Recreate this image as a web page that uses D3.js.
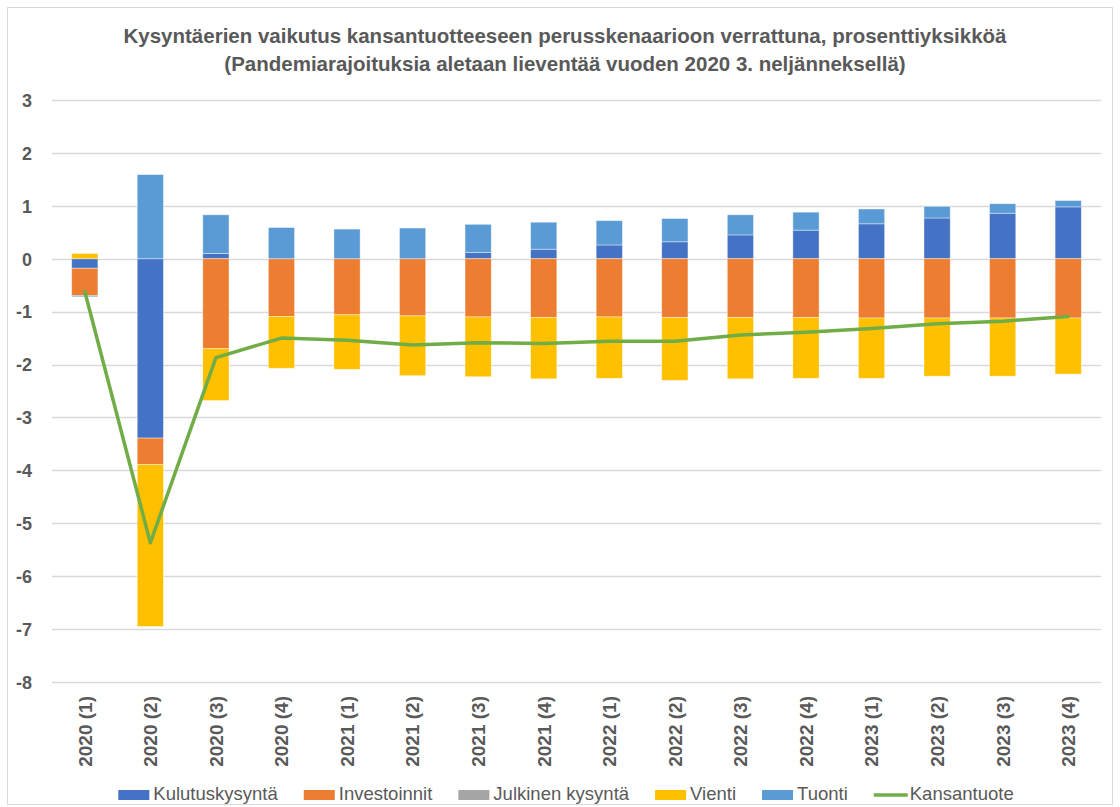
<!DOCTYPE html>
<html>
<head>
<meta charset="utf-8">
<script src="https://cdn.jsdelivr.net/npm/d3@7"></script>
<style>
  body { margin: 0; background: #fff; }
  svg text { font-family: "Liberation Sans", Arial, sans-serif; fill: #595959; }
</style>
</head>
<body>
<div id="chart"></div>
<script>
//quarters on the x axis
const quarters = ['2020 (1)','2020 (2)','2020 (3)','2020 (4)','2021 (1)','2021 (2)','2021 (3)','2021 (4)',
                  '2022 (1)','2022 (2)','2022 (3)','2022 (4)','2023 (1)','2023 (2)','2023 (3)','2023 (4)']

//demand components, percentage points
const kulutus      = [-0.18, -3.39, 0.10, 0.00, 0.00, 0.00, 0.12, 0.18, 0.26, 0.32, 0.45, 0.54, 0.66, 0.77, 0.86, 0.98]
const investoinnit = [-0.52, -0.50, -1.70, -1.09, -1.06, -1.08, -1.10, -1.11, -1.10, -1.11, -1.11, -1.11, -1.12, -1.12, -1.12, -1.12]
const julkinen     = [0, 0, 0, 0, 0, 0, 0, 0, 0, 0, 0, 0, 0, 0, 0, 0]
const vienti       = [0.10, -3.06, -0.98, -0.98, -1.03, -1.13, -1.13, -1.16, -1.16, -1.19, -1.16, -1.15, -1.14, -1.10, -1.10, -1.06]
const tuonti       = [-0.02, 1.59, 0.73, 0.59, 0.56, 0.58, 0.53, 0.51, 0.46, 0.44, 0.38, 0.34, 0.28, 0.22, 0.18, 0.12]

//gdp line
const kansantuote  = [-0.62, -5.37, -1.87, -1.50, -1.54, -1.63, -1.59, -1.60, -1.56, -1.56, -1.44, -1.39, -1.32, -1.23, -1.18, -1.09]

//y ticks
const yTicks = [3, 2, 1, 0, -1, -2, -3, -4, -5, -6, -7, -8]

//series names and colours
const keys = ['Kulutuskysyntä', 'Investoinnit', 'Julkinen kysyntä', 'Vienti', 'Tuonti']
const colors = ['#4472C4', '#ED7D31', '#A5A5A5', '#FFC000', '#5B9BD5']
const lineName = 'Kansantuote'
const lineColor = '#70AD47'

const titleLines = [
  'Kysyntäerien vaikutus kansantuotteeseen perusskenaarioon verrattuna, prosenttiyksikköä',
  '(Pandemiarajoituksia aletaan lieventää vuoden 2020 3. neljänneksellä)'
]

//build table for the stack
const series = [kulutus, investoinnit, julkinen, vienti, tuonti]
const table = quarters.map((q, i) => {
  let row = { q: q }
  keys.forEach((k, j) => row[k] = series[j][i])
  return row
})

//set the dimensions of the graph
const W = 1120, H = 807
const margin = {top: 100, right: 19, bottom: 125, left: 52}

const svg = d3.select('#chart')
  .append('svg')
    .attr('width', W)
    .attr('height', H)

//outer frame
svg.append('rect')
  .attr('x', 7.5).attr('y', 7.5)
  .attr('width', W - 15).attr('height', H - 10)
  .attr('fill', '#fff')
  .attr('stroke', '#d9d9d9')

//title
svg.append('g')
  .selectAll('text')
  .data(titleLines)
  .join('text')
    .attr('x', 565)
    .attr('y', (d, i) => 43 + i * 28)
    .attr('text-anchor', 'middle')
    .style('font-size', '20.5px')
    .style('font-weight', 'bold')
    .text(d => d)

//scales
const x = d3.scaleBand()
  .domain(quarters)
  .range([margin.left, W - margin.right])
  .paddingInner(0.6)
  .paddingOuter(0.3)

const y = d3.scaleLinear()
  .domain([-8, 3])
  .range([H - margin.bottom, margin.top])

//gridlines
svg.append('g')
  .selectAll('line')
  .data(yTicks)
  .join('line')
    .attr('x1', margin.left)
    .attr('x2', W - margin.right)
    .attr('y1', d => Math.round(y(d)) + 0.5)
    .attr('y2', d => Math.round(y(d)) + 0.5)
    .attr('stroke', '#d9d9d9')
    .attr('stroke-width', 1.3)

//y axis (plain hyphen for negatives, as in the original)
svg.append('g')
  .attr('transform', `translate(${margin.left - 17}, 0)`)
  .call(d3.axisLeft(y).tickValues(yTicks).tickSize(0).tickFormat(d => String(d)))
  .call(g => g.select('.domain').remove())
  .selectAll('text')
    .style('font-size', '18px')
    .style('font-weight', 'bold')
    .style('fill', '#595959')
    .attr('dy', '0.35em')

//x axis, rotated labels
svg.append('g')
  .attr('transform', `translate(0, ${H - margin.bottom + 14})`)
  .call(d3.axisBottom(x).tickSize(0))
  .call(g => g.select('.domain').remove())
  .selectAll('text')
    .style('font-size', '19px')
    .style('font-weight', 'bold')
    .style('fill', '#595959')
    .attr('text-anchor', 'end')
    .attr('transform', 'rotate(-90)')
    .attr('x', 0)
    .attr('y', 0)
    .attr('dy', '0.36em')

//stacked bars
const stacked = d3.stack().keys(keys).offset(d3.stackOffsetDiverging)(table)

svg.append('g')
  .selectAll('g')
  .data(stacked)
  .join('g')
    .attr('fill', (d, i) => colors[i])
  .selectAll('rect')
  .data(d => d)
  .join('rect')
    .attr('x', d => x(d.data.q))
    .attr('y', d => y(d[1]))
    .attr('width', x.bandwidth())
    .attr('height', d => y(d[0]) - y(d[1]))
    .attr('stroke', '#fff')
    .attr('stroke-opacity', 0.5)
    .attr('stroke-width', 0.8)

//gdp line
const line = d3.line()
  .x((d, i) => x(quarters[i]) + x.bandwidth() / 2)
  .y(d => y(d))

svg.append('path')
  .datum(kansantuote)
  .attr('d', line)
  .attr('fill', 'none')
  .attr('stroke', lineColor)
  .attr('stroke-width', 3.5)
  .attr('stroke-linejoin', 'round')
  .attr('stroke-linecap', 'round')

//legend
const legendItems = keys.map((k, i) => ({name: k, color: colors[i], type: 'bar'}))
  .concat([{name: lineName, color: lineColor, type: 'line'}])

const legend = svg.append('g')
let lx = 0
legendItems.forEach(d => {
  const g = legend.append('g').attr('transform', `translate(${lx}, 0)`)
  if (d.type == 'bar') {
    g.append('rect')
      .attr('x', 0).attr('y', -10)
      .attr('width', 31).attr('height', 10)
      .attr('fill', d.color)
  } else {
    g.append('line')
      .attr('x1', 0).attr('x2', 34)
      .attr('y1', -5).attr('y2', -5)
      .attr('stroke', d.color)
      .attr('stroke-width', 3.5)
  }
  const t = g.append('text')
    .attr('x', d.type == 'bar' ? 35 : 36)
    .attr('y', 0)
    .style('font-size', '18.5px')
    .text(d.name)
  lx += (d.type == 'bar' ? 35 : 36) + t.node().getComputedTextLength() + 26
})
lx -= 26
legend.attr('transform', `translate(${566 - lx / 2}, 800)`)
</script>
</body>
</html>
